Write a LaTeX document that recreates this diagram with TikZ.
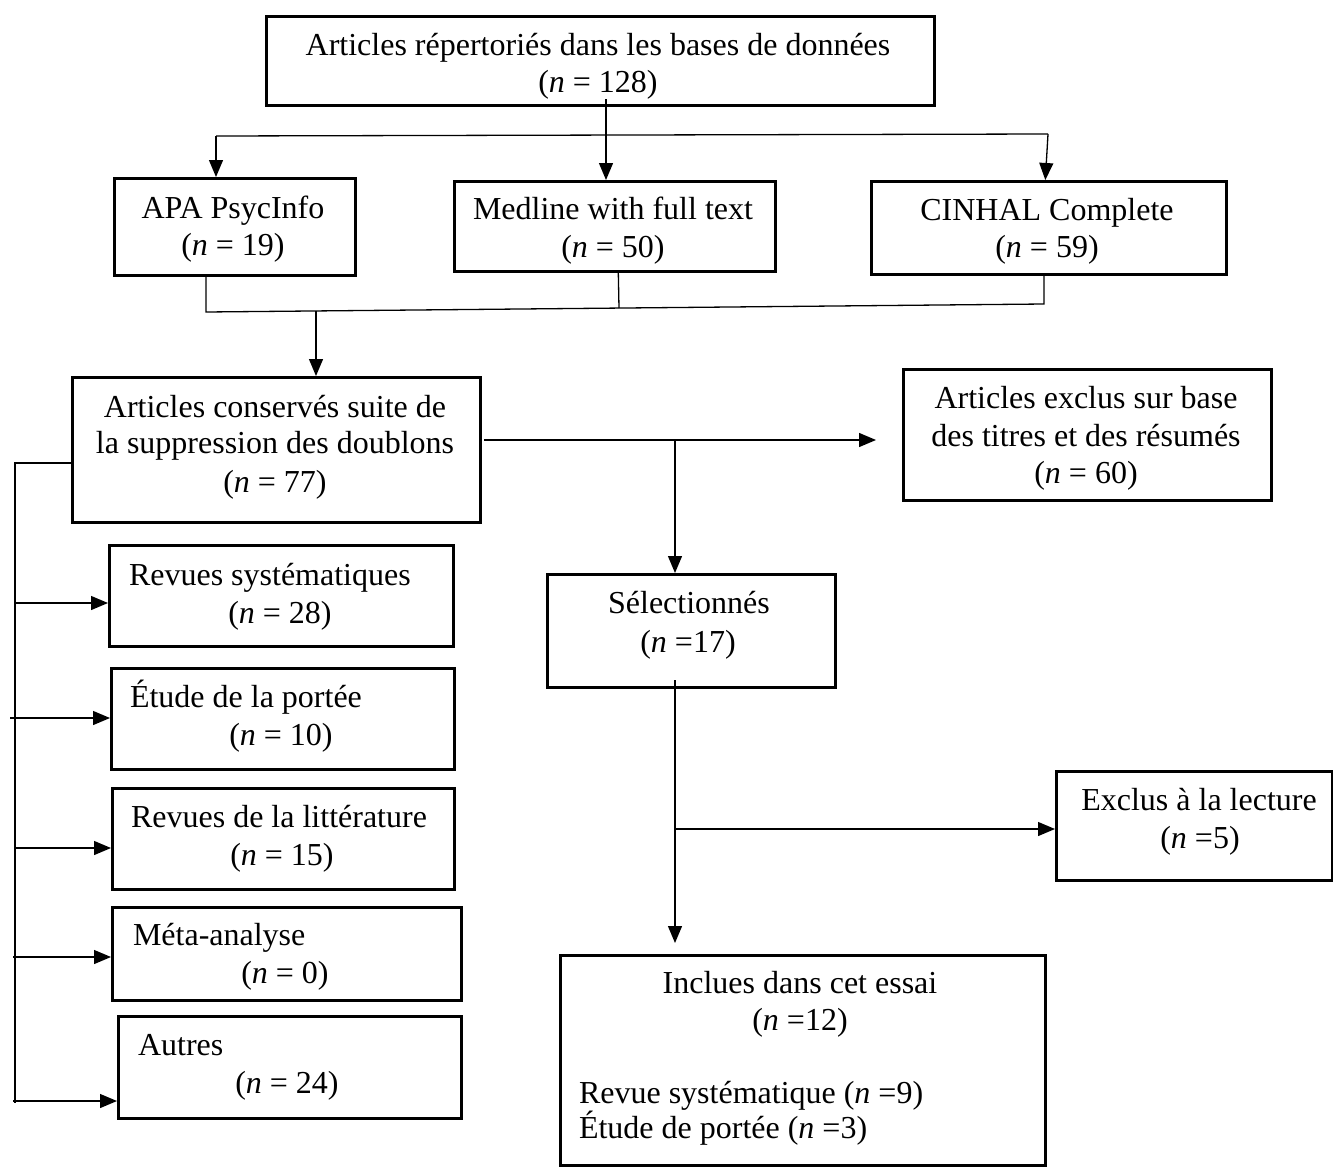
\documentclass[tikz,border=0pt]{standalone}
\usepackage{fontspec}
\setmainfont{Liberation Serif}
\usetikzlibrary{arrows.meta}
\begin{document}
\begin{tikzpicture}[x=1pt,y=-1pt,
  box/.style={draw, line width=2.6pt, inner sep=0pt, anchor=north west},
  conn/.style={line width=1.3pt},
  arr/.style={conn, -{Triangle[length=17pt,width=14pt]}},
  txt/.style={inner sep=0pt, outer sep=0pt, font=\fontsize{32}{37}\selectfont},
  tc/.style={txt, anchor=base},
  tl/.style={txt, anchor=base west}]
\useasboundingbox (0,0) rectangle (1333,1167);
% boxes
\node[box, minimum width=668pt, minimum height=89pt] (T) at (265,15) {};
\node[box, minimum width=241pt, minimum height=97pt] (APA) at (113,177) {};
\node[box, minimum width=321pt, minimum height=90pt] (MED) at (453,180) {};
\node[box, minimum width=355pt, minimum height=93pt] (CIN) at (870,180) {};
\node[box, minimum width=408pt, minimum height=145pt] (CONS) at (71,376) {};
\node[box, minimum width=368pt, minimum height=131pt] (EXC) at (902,368) {};
\node[box, minimum width=344pt, minimum height=101pt] (RS) at (108,544) {};
\node[box, minimum width=343pt, minimum height=101pt] (EP) at (110,667) {};
\node[box, minimum width=342pt, minimum height=101pt] (RL) at (111,787) {};
\node[box, minimum width=349pt, minimum height=93pt] (MA) at (111,906) {};
\node[box, minimum width=343pt, minimum height=102pt] (AU) at (117,1015) {};
\node[box, minimum width=288pt, minimum height=113pt] (SEL) at (546,573) {};
\node[box, minimum width=276pt, minimum height=109pt] (EXL) at (1055,770) {};
\node[box, minimum width=485pt, minimum height=210pt] (INC) at (559,954) {};
% texts
\node[tc] (T1) at (598,55) {Articles répertoriés dans les bases de données};
\node[tc] (T2) at (598,92) {(\textit{n} = 128)};
\node[tc] (APA1) at (233,218) {APA PsycInfo};
\node[tc] (APA2) at (233,255) {(\textit{n} = 19)};
\node[tc] (MED1) at (613,219) {Medline with full text};
\node[tc] (MED2) at (613,257) {(\textit{n} = 50)};
\node[tc] (CIN1) at (1047,220) {CINHAL Complete};
\node[tc] (CIN2) at (1047,257) {(\textit{n} = 59)};
\node[tc] (CONS1) at (275,417) {Articles conservés suite de};
\node[tc] (CONS2) at (275,453) {la suppression des doublons};
\node[tc] (CONS3) at (275,492) {(\textit{n} = 77)};
\node[tc] (EXC1) at (1086,408) {Articles exclus sur base};
\node[tc] (EXC2) at (1086,446) {des titres et des résumés};
\node[tc] (EXC3) at (1086,483) {(\textit{n} = 60)};
\node[tl] (RS1) at (129,585) {Revues systématiques};
\node[tc] (RS2) at (280,623) {(\textit{n} = 28)};
\node[tl] (EP1) at (130,707) {Étude de la portée};
\node[tc] (EP2) at (281,745) {(\textit{n} = 10)};
\node[tc] (RL1) at (279,827) {Revues de la littérature};
\node[tc] (RL2) at (282,865) {(\textit{n} = 15)};
\node[tl] (MA1) at (133,945) {Méta-analyse};
\node[tc] (MA2) at (285,983) {(\textit{n} = 0)};
\node[tl] (AU1) at (138,1055) {Autres};
\node[tc] (AU2) at (287,1093) {(\textit{n} = 24)};
\node[tc] (SEL1) at (689,613) {Sélectionnés};
\node[tc] (SEL2) at (688,652) {(\textit{n} =17)};
\node[tc] (EXL1) at (1199,810) {Exclus à la lecture};
\node[tc] (EXL2) at (1200,848) {(\textit{n} =5)};
\node[tc] (INC1) at (800,993) {Inclues dans cet essai};
\node[tc] (INC2) at (800,1030) {(\textit{n} =12)};
\node[tl] (INC3) at (579,1103) {Revue systématique (\textit{n} =9)};
\node[tl] (INC4) at (579,1138) {Étude de portée (\textit{n} =3)};
% connectors: top split
\coordinate (a0) at (606,99);
\coordinate (hl) at (216,136);
\coordinate (hr) at (1048,134);
\draw[arr] (a0) -- (a0 |- MED.north);
\draw[conn] (hl) -- (hr);
\draw[arr] (hl) -- (hl |- APA.north);
\draw[arr] (hr) -- ([xshift=-3.5pt]CIN.north);
% merge
\coordinate (m1) at (206,312);
\coordinate (m2) at (619,308);
\coordinate (m3) at (1044,304);
\coordinate (m4) at (316,311);
\draw[conn] (APA.south -| m1) -- (m1) -- (m3) -- (CIN.south -| m3);
\draw[conn] ([xshift=3.5pt]MED.south) -- (m2);
\draw[arr] (m4) -- (m4 |- CONS.north);
% screening
\coordinate (c1) at (484,440);
\coordinate (c2) at (675,440);
\coordinate (c3) at (876,440);
\draw[arr] (c1) -- (c3);
\draw[arr] (c2) -- (c2 |- SEL.north);
\coordinate (s1) at (675,680);
\coordinate (s2) at (675,829);
\coordinate (s3) at (675,943);
\draw[arr] (s1) -- (s3);
\draw[arr] (s2) -- (s2 -| EXL.west);
% left trunk
\coordinate (l0) at (15,463);
\coordinate (lb) at (15,1103);
\draw[conn] (l0 -| CONS.west) -- (l0) -- (lb);
\coordinate (l1) at (15,603);
\coordinate (l2) at (10,718);
\coordinate (l3) at (15,848);
\coordinate (l4) at (13,957);
\coordinate (l5) at (13,1101);
\draw[arr] (l1) -- (l1 -| RS.west);
\draw[arr] (l2) -- (l2 -| EP.west);
\draw[arr] (l3) -- (l3 -| RL.west);
\draw[arr] (l4) -- (l4 -| MA.west);
\draw[arr] (l5) -- (l5 -| AU.west);
\end{tikzpicture}
\end{document}
